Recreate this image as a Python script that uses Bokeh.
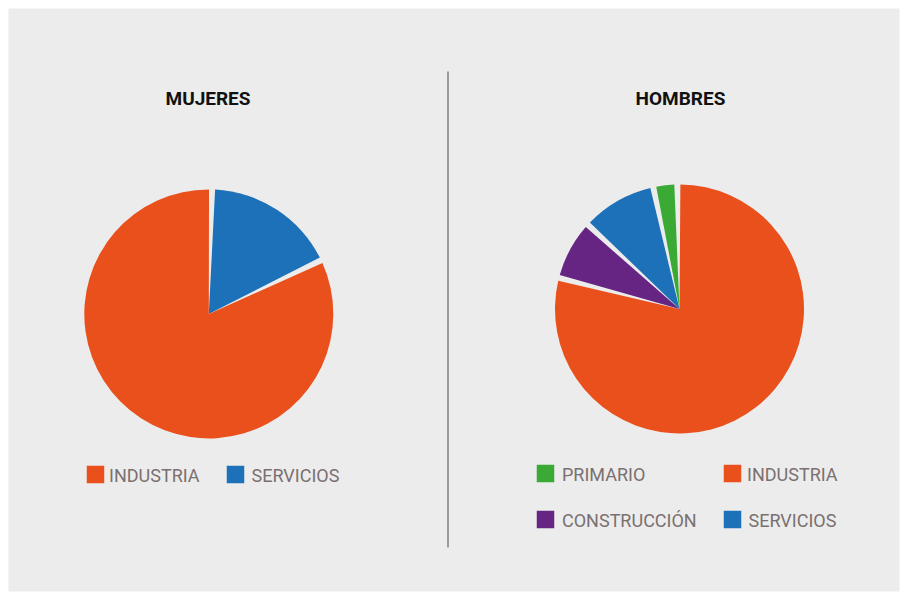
import numpy as np
from bokeh.plotting import figure
from bokeh.models import Range1d, ColumnDataSource, Label
from bokeh.embed import file_html
from bokeh.resources import INLINE
from bokeh.core.properties import value

# ---- data ----
mujeres_cats = ["INDUSTRIA", "SERVICIOS"]
mujeres_vals = [82.5, 17.5]
hombres_cats = ["PRIMARIO", "INDUSTRIA", "CONSTRUCCIÓN", "SERVICIOS"]
hombres_vals = [3.1, 79.3, 7.8, 9.8]
# clockwise drawing order starting at 12 o'clock
mujeres_order = ["SERVICIOS", "INDUSTRIA"]
hombres_order = ["INDUSTRIA", "CONSTRUCCIÓN", "SERVICIOS", "PRIMARIO"]
titles = ["MUJERES", "HOMBRES"]

colors = {"PRIMARIO": "#3aaa35", "INDUSTRIA": "#ea501c",
          "CONSTRUCCIÓN": "#662483", "SERVICIOS": "#1d71b8"}

BG = "#ececec"
FONT = "Roboto"
TXT = "#7a7070"

# frame spans page pixels x 8..899, y 8..591 ; data units == pixels
X0, X1, Y0, Y1 = 8, 899, 8, 591


def Y(sy):
    return -sy


def X(sx):
    return sx


p = figure(width=900, height=592, output_backend="svg", toolbar_location=None,
           x_range=Range1d(X0, X1), y_range=Range1d(-Y1, -Y0),
           x_axis_location=None, y_axis_location=None,
           min_border_left=8, min_border_top=8, min_border_right=1,
           min_border_bottom=1)
p.background_fill_color = BG
p.border_fill_color = "white"
p.outline_line_color = None
p.xgrid.visible = False
p.ygrid.visible = False


def pie(cats, vals, order, cx, cy, r, gap_deg=2.8, offset=0.0):
    d = dict(zip(cats, vals))
    tot = sum(vals)
    start = offset
    s_ang, e_ang, cols = [], [], []
    for c in order:
        sweep = d[c] / tot * 360.0
        a1 = start + gap_deg / 2
        a2 = start + sweep - gap_deg / 2
        # clockwise-from-top -> bokeh anticlockwise-from-x
        s_ang.append(np.deg2rad(90 - a2))
        e_ang.append(np.deg2rad(90 - a1))
        cols.append(colors[c])
        start += sweep
    src = ColumnDataSource(dict(x=[cx] * len(order), y=[cy] * len(order),
                                s=s_ang, e=e_ang, c=cols))
    p.wedge(x="x", y="y", radius=r, start_angle="s", end_angle="e",
            fill_color="c", line_color=None, source=src)


pie(mujeres_cats, mujeres_vals, mujeres_order, X(208.3), Y(313.4), 124.5, offset=1.5)
pie(hombres_cats, hombres_vals, hombres_order, X(679), Y(308.5), 124.5, offset=-1.0)

# titles
for t, sx in zip(titles, [207.5, 680]):
    p.add_layout(Label(x=X(sx), y=Y(98), text=t, text_align="center",
                       text_baseline="middle", text_font=FONT,
                       text_font_size="19px", text_font_style="bold",
                       text_color="#111111"))

# divider
p.line(x=[X(447.5), X(447.5)], y=[Y(71), Y(547)], line_color="#9a9a9a", line_width=2)


# legends
def legend(cats, sq_pos, txt_pos):
    sx = [X(a) for a, b in sq_pos]
    sy = [Y(b) for a, b in sq_pos]
    p.rect(x=sx, y=sy, width=17.5, height=17.5, fill_color=[colors[c] for c in cats],
           line_color=None)
    tx = [X(a) for a, b in txt_pos]
    ty = [Y(b) for a, b in txt_pos]
    p.text(x=tx, y=ty, text=cats, text_font=value(FONT), text_font_size="18px",
           text_color=TXT, text_baseline="middle", text_align="left")


legend(mujeres_cats, [(95, 474), (235, 474)], [(108.5, 474.5), (251, 474.5)])
legend(hombres_cats,
       [(545, 473), (732, 473), (545, 519), (732, 519)],
       [(561.5, 473.5), (746.5, 473.5), (561.5, 519.5), (748, 519.5)])

open("out.html", "w").write(file_html(p, INLINE))
